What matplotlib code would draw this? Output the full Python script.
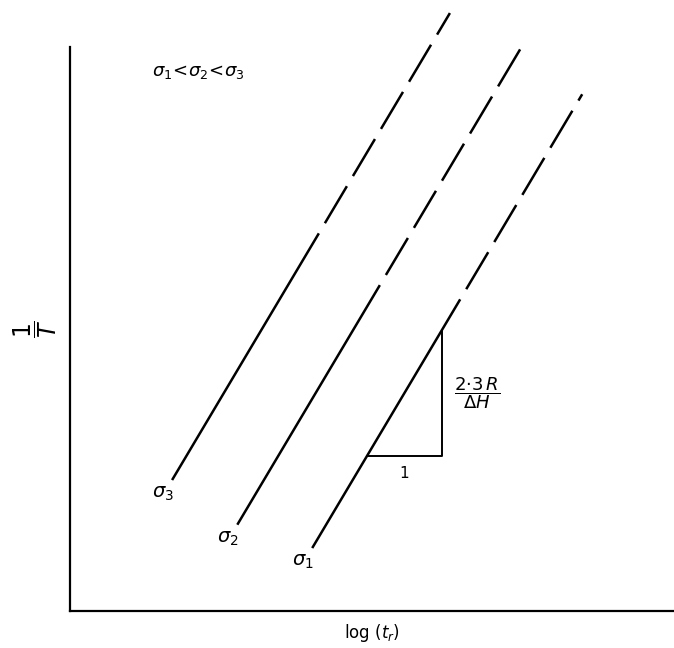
import numpy as np
import matplotlib.pyplot as plt

plt.rcParams['mathtext.fontset'] = 'dejavusans'
plt.rcParams['lines.scale_dashes'] = False

# constant-stress lines: 1/T = slope * (log t_r - x0)
sigma_labels = [r'$\sigma_1$', r'$\sigma_2$', r'$\sigma_3$']
x0 = [3.39, 1.92, 0.40]
x_start = [4.01, 2.77, 1.69]
x_break = [6.46, 5.13, 4.12]   # solid up to here, dashed beyond
x_end = [8.48, 7.50, 6.29]
slope = 1.8

# slope triangle on the sigma_1 line
tri_x = [4.92, 6.16]

fig = plt.figure(figsize=(6.74, 6.48), dpi=100)
ax = fig.add_axes([70 / 674, 37 / 648, 604 / 674, 564 / 648])
ax.set_xlim(0, 10)
ax.set_ylim(0, 10)

for lab, a, xs, xb, xe in zip(sigma_labels, x0, x_start, x_break, x_end):
    xx = np.array([xs, xb])
    ax.plot(xx, slope * (xx - a), color='black', lw=1.8, solid_capstyle='butt')
    xx = np.array([xb, xe])
    ax.plot(xx, slope * (xx - a), color='black', lw=1.8, clip_on=False,
            linestyle=(31.0, (31.0, 8.5)), dash_capstyle='butt')
    ax.annotate(lab, (xs, slope * (xs - a)), xytext=(-6.5, -10), textcoords='offset points',
                ha='center', va='center', fontsize=14)

a1 = x0[0]
ty = [slope * (tri_x[0] - a1), slope * (tri_x[1] - a1)]
ax.plot([tri_x[0], tri_x[1], tri_x[1]], [ty[0], ty[0], ty[1]], color='black', lw=1.4)
ax.annotate('1', ((tri_x[0] + tri_x[1]) / 2, ty[0]), xytext=(0, -13), textcoords='offset points',
            ha='center', va='center', fontsize=11)
ax.annotate(r'$\dfrac{2{\cdot}3\,R}{\Delta H}$', (tri_x[1], (ty[0] + ty[1]) / 2),
            xytext=(25, 0), textcoords='offset points', ha='center', va='center', fontsize=13)

ax.text(0.212, 0.956, r'$\sigma_1\!<\!\sigma_2\!<\!\sigma_3$', transform=ax.transAxes,
        ha='center', va='center', fontsize=13)

ax.set_xlabel(r'log ($t_r$)', fontsize=12, labelpad=8)
ax.set_ylabel(r'$\dfrac{1}{T}$', fontsize=17, labelpad=8, rotation=90)

ax.spines['top'].set_visible(False)
ax.spines['right'].set_visible(False)
ax.spines['left'].set_linewidth(1.6)
ax.spines['bottom'].set_linewidth(1.6)
ax.set_xticks([])
ax.set_yticks([])

fig.savefig('out.png', dpi=100)
